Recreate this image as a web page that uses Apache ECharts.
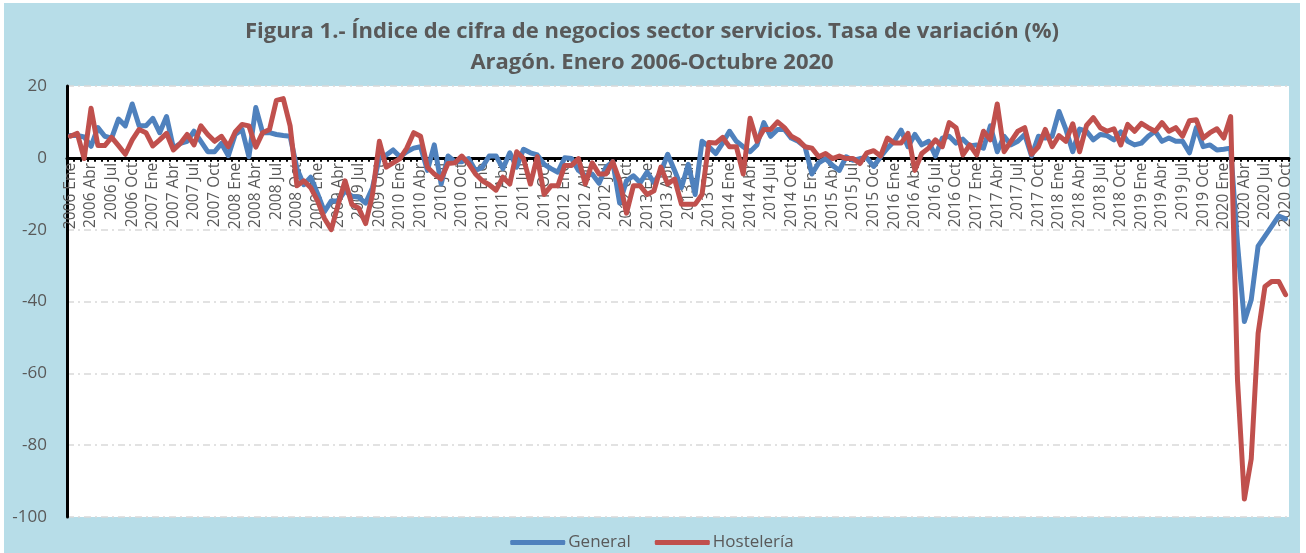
<!DOCTYPE html>
<html>
<head>
<meta charset="utf-8">
<script src="https://cdn.jsdelivr.net/npm/echarts@6/dist/echarts.min.js"></script>
<style>
  html, body { margin: 0; padding: 0; background: #fff; }
  #wrap { position: absolute; left: 4px; top: 3px; width: 1296px; height: 550px; background: #b7dde8; }
  #chart { width: 1296px; height: 550px; }
</style>
</head>
<body>
<div id="wrap"><div id="chart"></div></div>
<script>
// meses de enero 2006 a octubre 2020
const meses = ['Ene', 'Feb', 'Mar', 'Abr', 'May', 'Jun', 'Jul', 'Ago', 'Sep', 'Oct', 'Nov', 'Dic'];
const years = [2006, 2007, 2008, 2009, 2010, 2011, 2012, 2013, 2014, 2015, 2016, 2017, 2018, 2019, 2020];
const categories = [];
years.forEach(y => meses.forEach((m, i) => {
    if (y < 2020 || i < 10) categories.push(y + ' ' + m);
}));

// General (tasa de variación %)
const general = [
    6.2, 6.2, 5.8, 3.2, 8.4, 6, 5.5, 10.8, 8.9, 15, 8.9, 8.9,
    11, 7, 11.5, 2.7, 4, 4.6, 7.4, 4.6, 1.7, 1.7, 4, 0.6,
    6.5, 7.9, 0.3, 14, 7, 7, 6.5, 6.2, 6, -3, -7.5, -5.4,
    -10, -15, -12, -12, -9.2, -10.7, -11, -12.6, -8.3, 0, 0.8, 2.2,
    0.3, 1.7, 2.7, 3.1, -3.5, 3.6, -7.3, 0.5, -1.1, -1.1, -0.2, -3.5,
    -2.6, 0.5, 0.5, -3, 1.4, -2.6, 2.4, 1.4, 0.8, -1.8, -3, -4,
    0, -0.2, -3.5, -5, -4.5, -7.1, -2.6, -1.1, -12.6, -6.4, -5, -6.9,
    -4, -6.9, -4, 1, -3.5, -8.3, -1.8, -10.2, 4.6, 3.1, 1.2, 4.1,
    7.4, 4.6, 3.1, 1.7, 3.6, 9.8, 6, 7.9, 7.9, 5.5, 4.6, 3.1,
    -4.5, -1.4, -0.2, -2.1, -3.5, 0.3, -0.7, -0.2, 0, -2.4, 0.3, 2.7,
    4.6, 7.7, 3.1, 6.5, 3.6, 4.6, 0.5, 5.5, 6, 4.1, 5.2, 3.3,
    3.6, 2.7, 8.9, 1.7, 6, 3.6, 4.6, 6.5, 0.5, 6, 5.5, 6,
    12.9, 7.9, 1.7, 8, 7.4, 5, 6.5, 6.2, 5, 7.2, 4.6, 3.6,
    4.1, 6, 7.4, 4.6, 5.5, 4.6, 4.6, 1.4, 8.4, 3.1, 3.6, 2.2,
    2.4, 2.7, -24, -45.6, -39.5, -24.6, -21.8, -19, -16.2, -17
];

// Hostelería (tasa de variación %)
const hosteleria = [
    6, 6.8, -0.2, 13.8, 3.4, 3.4, 5.7, 3.4, 1, 5, 7.9, 7,
    3.3, 5, 6.8, 2.2, 4, 6.5, 3.6, 8.9, 6.5, 4.6, 6, 3.1,
    7.2, 9.3, 8.9, 3, 7, 7.9, 16, 16.5, 8.9, -7.8, -6.4, -8.3,
    -12, -16.9, -20, -13, -6.4, -13, -14, -18.3, -10.2, 4.6, -2.6, -1.4,
    -0.2, 2.7, 7, 6, -2.6, -4.5, -5.9, -1.6, -1.4, 0.5, -1.6, -4.5,
    -6.4, -7.5, -9, -5.4, -7.3, 1.7, -0.2, -7.3, 0.3, -10.2, -7.8, -7.8,
    -2.1, -2.1, -0.2, -7.3, -1.4, -4.5, -4.5, -1.1, -6.4, -15.4, -7.8, -7.8,
    -10.2, -9.2, -2.6, -7.3, -5.9, -12.9, -12.9, -12.9, -10.2, 4.3, 4.1, 5.7,
    3.1, 3.1, -4.5, 11, 4.6, 7.9, 7.9, 10, 8.4, 6, 5, 3.1,
    2.7, 0.3, 1.2, -0.2, 0.5, -0.2, -0.2, -1.6, 1.4, 2, 0.5, 5.5,
    4.1, 4.1, 6.8, -3.5, 1.2, 2.7, 5, 3.1, 9.8, 8.4, 0.8, 3.6,
    0.8, 7.4, 5, 15, 1.7, 4.6, 7.4, 8.4, 1, 3.1, 7.9, 3.1,
    6.2, 4.6, 9.5, 1.7, 9, 11.2, 8.4, 7.4, 8.1, 3.6, 9.3, 7.4,
    9.6, 8.4, 7.4, 9.8, 7.4, 8.4, 6, 10.3, 10.6, 5.5, 7, 8.1,
    5.5, 11.5, -62, -95, -83.8, -48.9, -35.8, -34.4, -34.4, -38.1
];

const yTicks = { min: -100, max: 20, interval: 20 };

const textColor = '#595959';
const fontFam = '"Open Sans", Lato, sans-serif';

// tamaño del grid, para poner el eje X en el cero
const gridTop = 83, gridBottom = 36, chartH = 550;
const gridH = chartH - gridTop - gridBottom;
const zeroFromBottom = gridH * (0 - yTicks.min) / (yTicks.max - yTicks.min);

let myChart = echarts.init(document.getElementById('chart'));
let option = {
    backgroundColor: 'transparent',
    animation: false,
    title: {
        text: 'Figura 1.- Índice de cifra de negocios sector servicios. Tasa de variación (%)\nAragón. Enero 2006-Octubre 2020',
        left: 'center',
        top: 8,
        textStyle: {
            color: textColor,
            fontSize: 22,
            fontWeight: 'bold',
            fontFamily: fontFam,
            lineHeight: 31,
            align: 'center'
        }
    },
    legend: {
        bottom: -3,
        left: 'center',
        icon: 'roundRect',
        itemWidth: 55,
        itemHeight: 5,
        itemGap: 24,
        textStyle: { color: textColor, fontSize: 17, fontFamily: fontFam, padding: [0, 0, 0, -2] },
        data: ['General', 'Hostelería']
    },
    grid: {
        left: 63,
        right: 11,
        top: gridTop,
        bottom: gridBottom,
        show: true,
        backgroundColor: '#ffffff',
        borderWidth: 0
    },
    xAxis: {
        type: 'category',
        data: categories,
        boundaryGap: true,
        position: 'bottom',
        offset: -zeroFromBottom,
        axisLine: { onZero: false, lineStyle: { color: '#000', width: 3 } },
        axisTick: { show: true, interval: 0, length: 4, lineStyle: { color: '#000', width: 2 } },
        axisLabel: {
            interval: 2,
            rotate: 90,
            margin: 5,
            color: textColor,
            fontSize: 15.5,
            fontFamily: fontFam
        }
    },
    yAxis: {
        type: 'value',
        min: yTicks.min,
        max: yTicks.max,
        interval: yTicks.interval,
        axisLine: { show: true, lineStyle: { color: '#000', width: 3 } },
        axisTick: { show: false },
        axisLabel: { color: textColor, fontSize: 17, margin: 20, fontFamily: fontFam },
        splitLine: { lineStyle: { color: '#d9d9d9', width: 1.5, type: [7, 4, 2, 4] } }
    },
    series: [
        {
            name: 'General',
            type: 'line',
            data: general,
            showSymbol: false,
            symbol: 'none',
            color: '#4f81bd',
            lineStyle: { width: 5, cap: 'round', join: 'round' }
        },
        {
            name: 'Hostelería',
            type: 'line',
            data: hosteleria,
            showSymbol: false,
            symbol: 'none',
            color: '#c0504d',
            lineStyle: { width: 5, cap: 'round', join: 'round' }
        }
    ]
};
myChart.setOption(option);
</script>
</body>
</html>
